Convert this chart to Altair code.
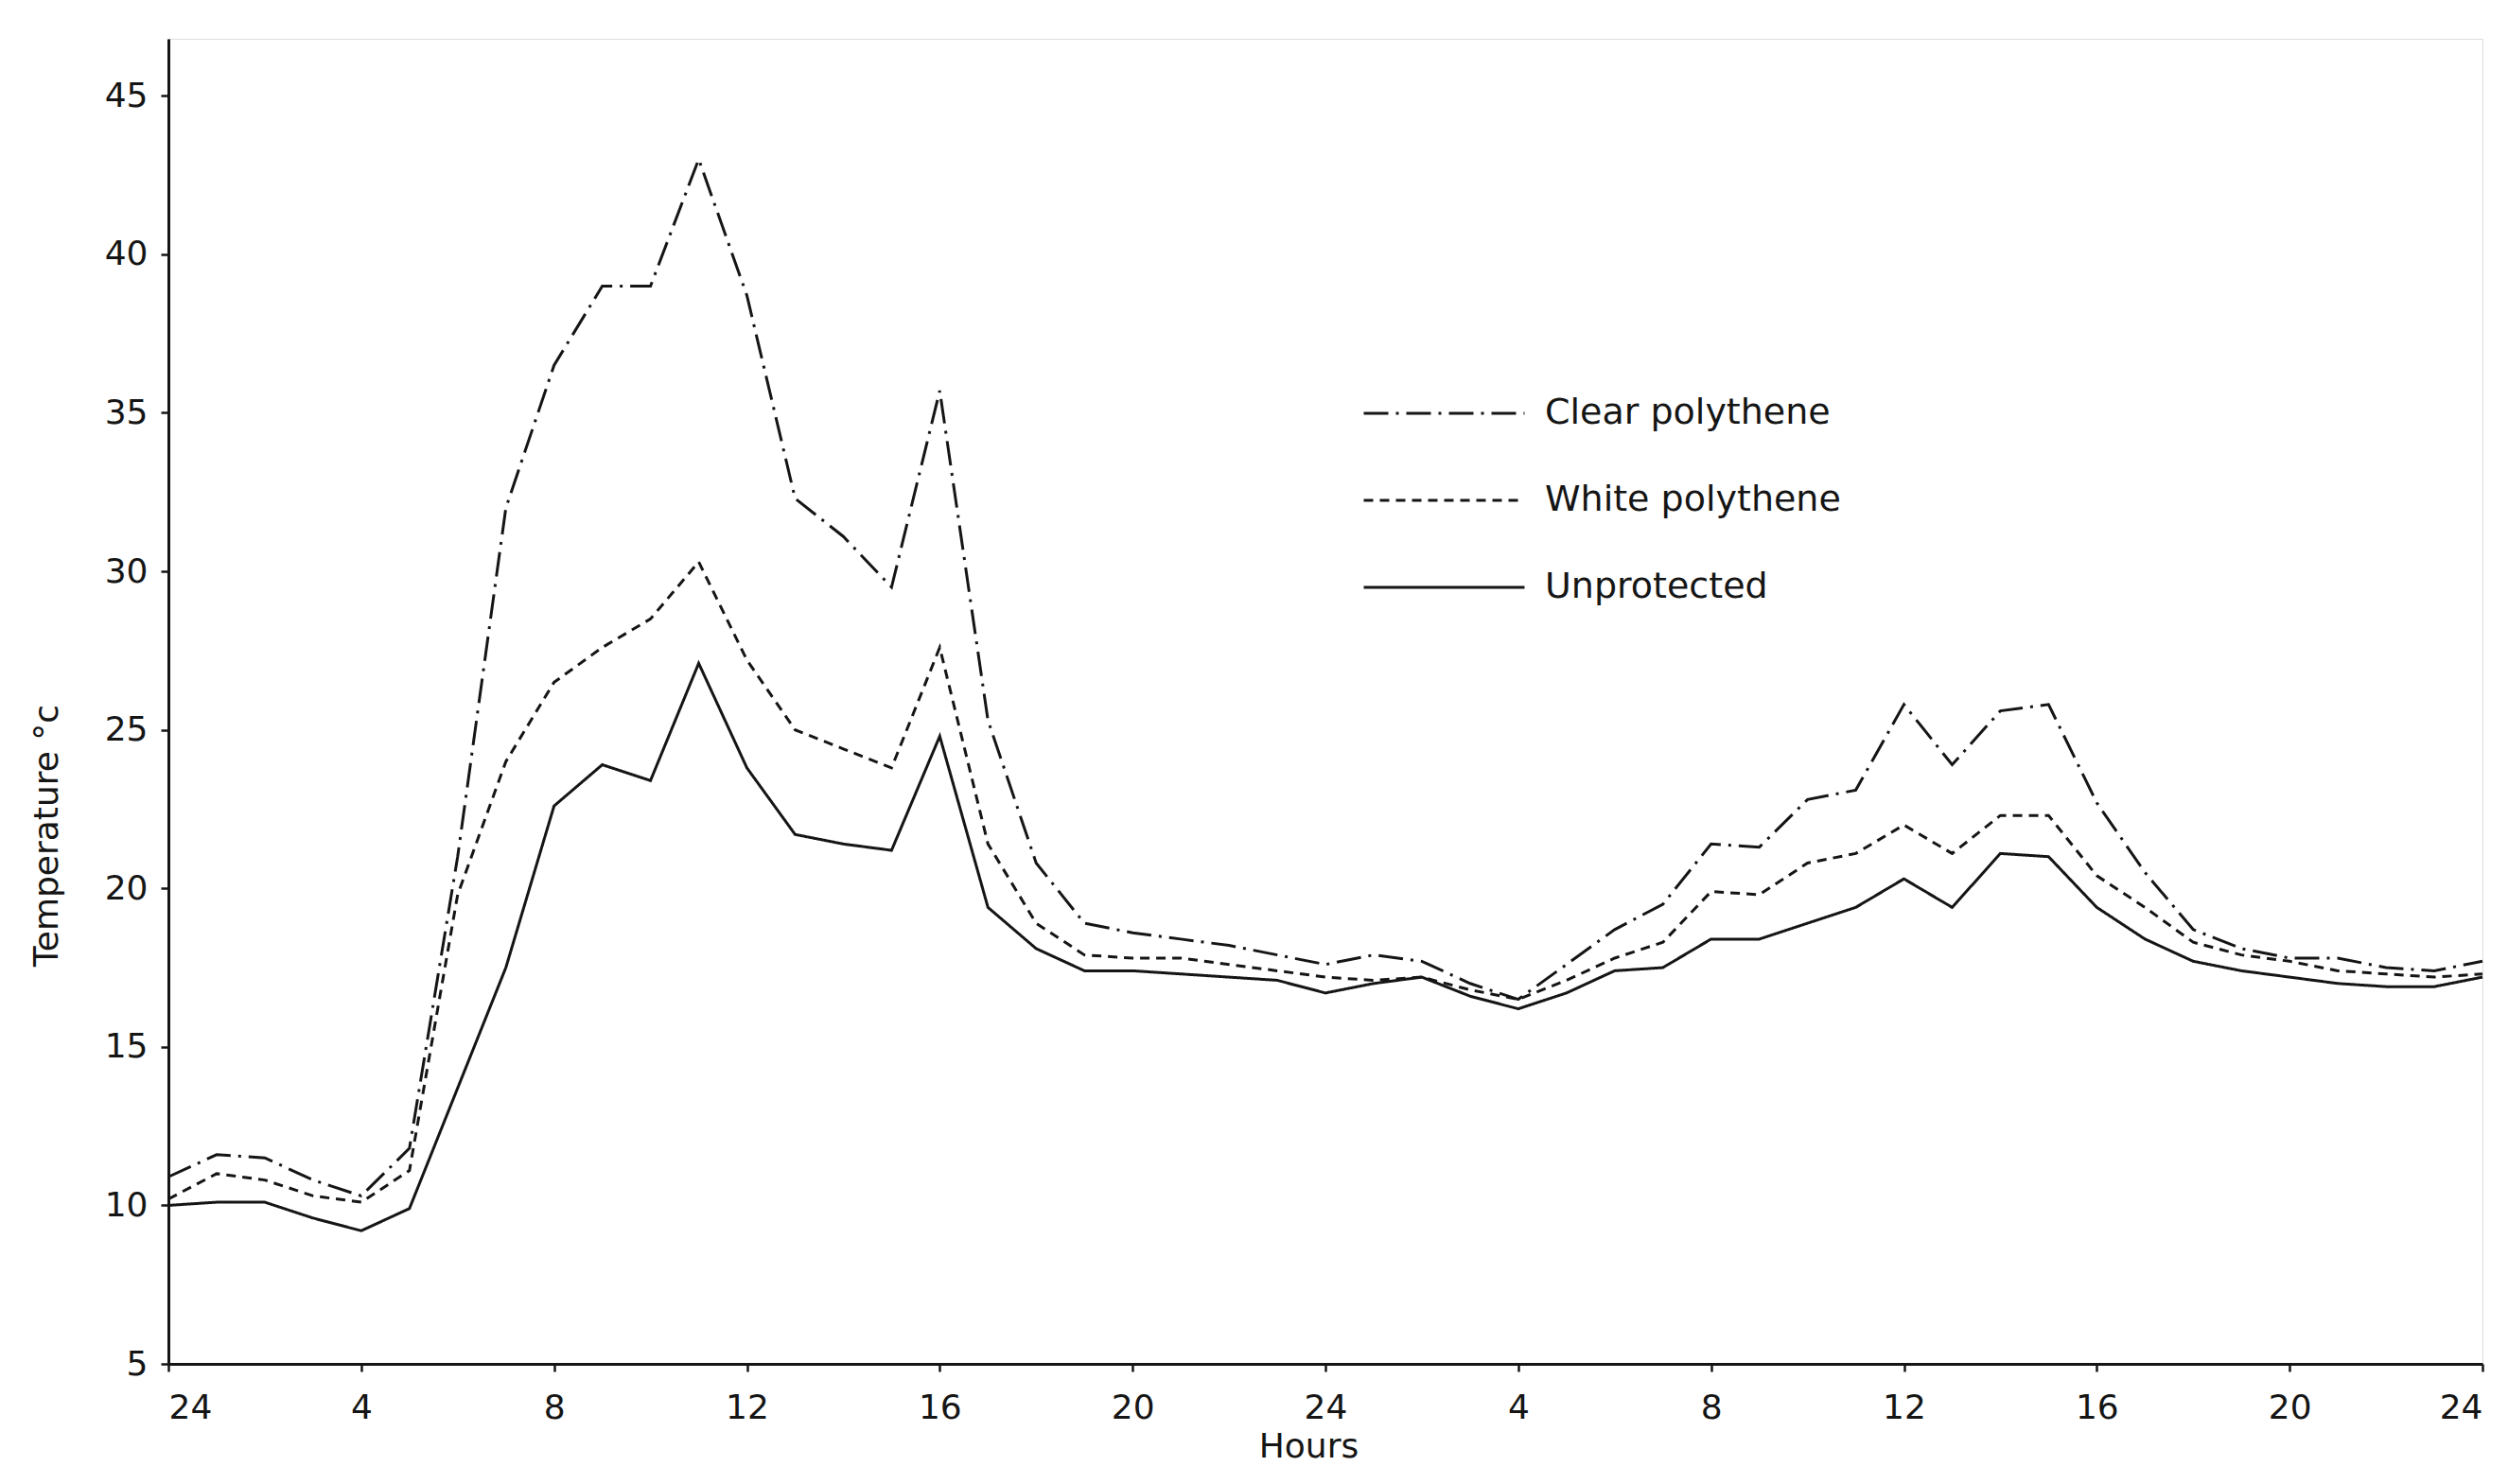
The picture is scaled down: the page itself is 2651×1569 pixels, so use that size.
import altair as alt
import pandas as pd

# Hours since midnight of day 1 (0 = "24", 48 = "24")
hours = list(range(49))

clear_poly = [10.9, 11.6, 11.5, 10.8, 10.3, 11.8,
              21.0, 32.0, 36.5, 39.0, 39.0, 43.0,
              38.7, 32.3, 31.1, 29.5, 35.7, 25.3,
              20.8, 18.9, 18.6, 18.4, 18.2, 17.9,
              17.6, 17.9, 17.7, 17.0, 16.5, 17.6,
              18.7, 19.5, 21.4, 21.3, 22.8, 23.1,
              25.8, 23.9, 25.6, 25.8, 22.7, 20.5,
              18.7, 18.1, 17.8, 17.8, 17.5, 17.4, 17.7]

white_poly = [10.2, 11.0, 10.8, 10.3, 10.1, 11.1,
              19.8, 24.0, 26.5, 27.6, 28.5, 30.3,
              27.2, 25.0, 24.4, 23.8, 27.6, 21.4,
              18.9, 17.9, 17.8, 17.8, 17.6, 17.4,
              17.2, 17.1, 17.2, 16.8, 16.5, 17.1,
              17.8, 18.3, 19.9, 19.8, 20.8, 21.1,
              22.0, 21.1, 22.3, 22.3, 20.4, 19.4,
              18.3, 17.9, 17.7, 17.4, 17.3, 17.2, 17.3]

unprotected = [10.0, 10.1, 10.1, 9.6, 9.2, 9.9,
               13.7, 17.5, 22.6, 23.9, 23.4, 27.1,
               23.8, 21.7, 21.4, 21.2, 24.8, 19.4,
               18.1, 17.4, 17.4, 17.3, 17.2, 17.1,
               16.7, 17.0, 17.2, 16.6, 16.2, 16.7,
               17.4, 17.5, 18.4, 18.4, 18.9, 19.4,
               20.3, 19.4, 21.1, 21.0, 19.4, 18.4,
               17.7, 17.4, 17.2, 17.0, 16.9, 16.9, 17.2]

series = ["Clear polythene", "White polythene", "Unprotected"]
dashes = [[26, 8, 3, 8], [10, 7], [1, 0]]

x_ticks = list(range(0, 49, 4))
y_ticks = [5, 10, 15, 20, 25, 30, 35, 40, 45]

rows = []
for name, vals in zip(series, [clear_poly, white_poly, unprotected]):
    for h, v in zip(hours, vals):
        rows.append({"hour": h, "temp": v, "series": name})
df = pd.DataFrame(rows)

FONT = "DejaVu Sans"
INK = "#151515"

chart = alt.Chart(df).mark_line(color=INK, strokeWidth=3).encode(
    x=alt.X(
        "hour:Q",
        scale=alt.Scale(domain=[0, 48], nice=False, zero=False),
        axis=alt.Axis(
            values=x_ticks,
            labelExpr="datum.value % 24 == 0 ? '24' : '' + (datum.value % 24)",
            title="Hours",
            titleX=1205,
            titleY=98,
            titleBaseline="alphabetic",
            grid=False,
            domainColor=INK, domainWidth=3,
            tickColor=INK, tickWidth=2.5, tickSize=8,
            labelFont=FONT, labelFontSize=36, labelColor=INK, labelPadding=21,
            titleFont=FONT, titleFontSize=36, titleColor=INK, titleFontWeight="normal",
        ),
    ),
    y=alt.Y(
        "temp:Q",
        scale=alt.Scale(domain=[5, 46.8], nice=False, zero=False),
        axis=alt.Axis(
            values=y_ticks,
            title="Temperature °c",
            titleX=-110,
            titleY=842,
            grid=False,
            domainColor=INK, domainWidth=3,
            tickColor=INK, tickWidth=2.5, tickSize=8,
            labelFont=FONT, labelFontSize=36, labelColor=INK, labelPadding=14,
            titleFont=FONT, titleFontSize=36, titleColor=INK, titleFontWeight="normal",
        ),
    ),
    strokeDash=alt.StrokeDash(
        "series:N",
        scale=alt.Scale(domain=series, range=dashes),
        legend=alt.Legend(
            title=None,
            orient="none",
            legendX=1262,
            legendY=350,
            symbolType="stroke",
            symbolSize=28900,
            symbolStrokeWidth=3,
            symbolStrokeColor=INK,
            labelFont=FONT,
            labelFontSize=38,
            labelColor=INK,
            labelOffset=20,
            labelLimit=0,
            clipHeight=92,
            rowPadding=0,
        ),
    ),
).properties(
    width=2446,
    height=1401,
    autosize="none",
    padding={"left": 170, "top": 33, "right": 15, "bottom": 113},
).configure_view(stroke=None).configure(background="white")

chart.save("out.html", embed_options={"renderer": "svg", "actions": False})
